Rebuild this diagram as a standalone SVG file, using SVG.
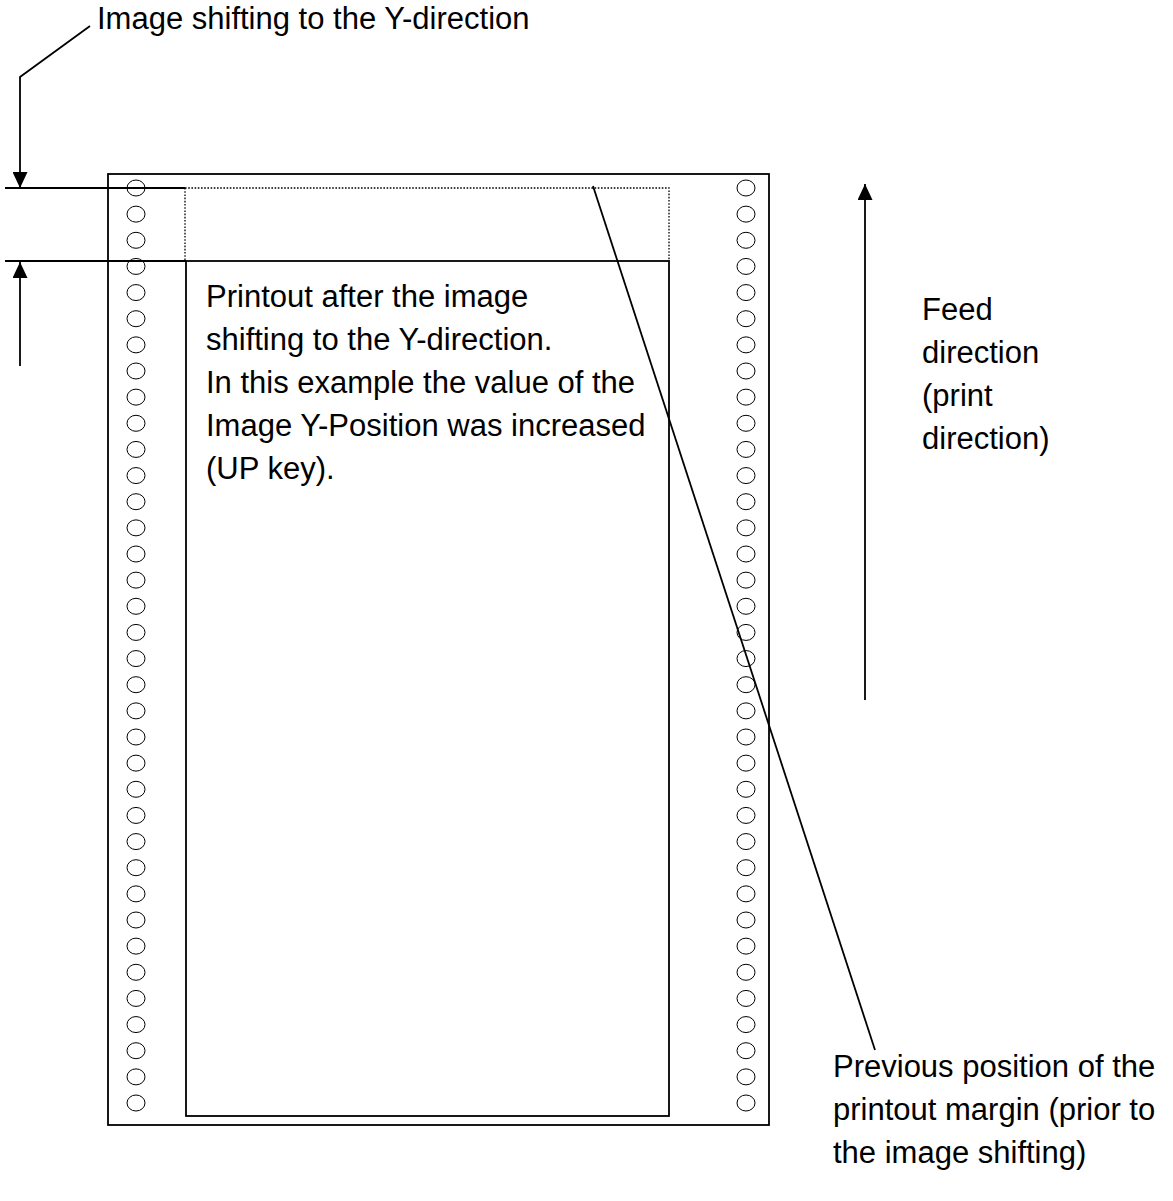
<svg xmlns="http://www.w3.org/2000/svg" width="1173" height="1201" viewBox="0 0 1173 1201">
<style>
text{font-family:"Liberation Sans",Arial,sans-serif;font-size:31px;fill:#000}
.ln{stroke:#000;stroke-width:1.8;fill:none}
.dot{stroke:#000;stroke-width:1.3;fill:none;stroke-dasharray:1.6 1.6}
.hole{stroke:#000;stroke-width:1;fill:#fff}
</style>
<defs>
<marker id="ah" markerUnits="userSpaceOnUse" markerWidth="16" markerHeight="15" refX="16" refY="7.5" orient="auto">
<path d="M0,0 L16,7.5 L0,15 Z" fill="#000"/>
</marker>
<g id="col">
<ellipse class="hole" cx="0" cy="0" rx="9" ry="8"/>
</g>
</defs>
<rect width="1173" height="1201" fill="#fff"/>
<g id="paper">
<rect class="ln" x="108" y="174" width="661" height="951"/>
</g>
<g id="previous-margin">
<polyline class="dot" points="185,188 669,188 669,261"/>
<line class="dot" x1="185" y1="188" x2="185" y2="261"/>
</g>
<g id="printout">
<rect class="ln" x="186" y="261" width="483" height="855"/>
<text x="206" y="307">Printout after the image</text>
<text x="206" y="350">shifting to the Y-direction.</text>
<text x="206" y="393">In this example the value of the</text>
<text x="206" y="436">Image Y-Position was increased</text>
<text x="206" y="479">(UP key).</text>
</g>
<g id="holes-left">
<use href="#col" x="136" y="188"/><use href="#col" x="136" y="214.14"/><use href="#col" x="136" y="240.29"/><use href="#col" x="136" y="266.43"/><use href="#col" x="136" y="292.57"/><use href="#col" x="136" y="318.71"/><use href="#col" x="136" y="344.86"/><use href="#col" x="136" y="371"/><use href="#col" x="136" y="397.14"/><use href="#col" x="136" y="423.29"/><use href="#col" x="136" y="449.43"/><use href="#col" x="136" y="475.57"/><use href="#col" x="136" y="501.71"/><use href="#col" x="136" y="527.86"/><use href="#col" x="136" y="554"/><use href="#col" x="136" y="580.14"/><use href="#col" x="136" y="606.29"/><use href="#col" x="136" y="632.43"/><use href="#col" x="136" y="658.57"/><use href="#col" x="136" y="684.71"/><use href="#col" x="136" y="710.86"/><use href="#col" x="136" y="737"/><use href="#col" x="136" y="763.14"/><use href="#col" x="136" y="789.29"/><use href="#col" x="136" y="815.43"/><use href="#col" x="136" y="841.57"/><use href="#col" x="136" y="867.71"/><use href="#col" x="136" y="893.86"/><use href="#col" x="136" y="920"/><use href="#col" x="136" y="946.14"/><use href="#col" x="136" y="972.29"/><use href="#col" x="136" y="998.43"/><use href="#col" x="136" y="1024.57"/><use href="#col" x="136" y="1050.71"/><use href="#col" x="136" y="1076.86"/><use href="#col" x="136" y="1103"/>
</g>
<g id="holes-right">
<use href="#col" x="746" y="188"/><use href="#col" x="746" y="214.14"/><use href="#col" x="746" y="240.29"/><use href="#col" x="746" y="266.43"/><use href="#col" x="746" y="292.57"/><use href="#col" x="746" y="318.71"/><use href="#col" x="746" y="344.86"/><use href="#col" x="746" y="371"/><use href="#col" x="746" y="397.14"/><use href="#col" x="746" y="423.29"/><use href="#col" x="746" y="449.43"/><use href="#col" x="746" y="475.57"/><use href="#col" x="746" y="501.71"/><use href="#col" x="746" y="527.86"/><use href="#col" x="746" y="554"/><use href="#col" x="746" y="580.14"/><use href="#col" x="746" y="606.29"/><use href="#col" x="746" y="632.43"/><use href="#col" x="746" y="658.57"/><use href="#col" x="746" y="684.71"/><use href="#col" x="746" y="710.86"/><use href="#col" x="746" y="737"/><use href="#col" x="746" y="763.14"/><use href="#col" x="746" y="789.29"/><use href="#col" x="746" y="815.43"/><use href="#col" x="746" y="841.57"/><use href="#col" x="746" y="867.71"/><use href="#col" x="746" y="893.86"/><use href="#col" x="746" y="920"/><use href="#col" x="746" y="946.14"/><use href="#col" x="746" y="972.29"/><use href="#col" x="746" y="998.43"/><use href="#col" x="746" y="1024.57"/><use href="#col" x="746" y="1050.71"/><use href="#col" x="746" y="1076.86"/><use href="#col" x="746" y="1103"/>
</g>
<g id="label-shift">
<text x="97" y="29">Image shifting to the Y-direction</text>
</g>
<g id="label-feed">
<text x="922" y="320">Feed</text>
<text x="922" y="363">direction</text>
<text x="922" y="406">(print</text>
<text x="922" y="449">direction)</text>
</g>
<g id="label-previous">
<text x="833" y="1077">Previous position of the</text>
<text x="833" y="1120">printout margin (prior to</text>
<text x="833" y="1163">the image shifting)</text>
</g>
<g id="connectors">
<line class="ln" x1="5" y1="188" x2="185" y2="188"/>
<line class="ln" x1="5" y1="261" x2="186" y2="261"/>
<polyline class="ln" points="90,26 20,77 20,188" marker-end="url(#ah)"/>
<line class="ln" x1="20" y1="366" x2="20" y2="262" marker-end="url(#ah)"/>
<line class="ln" x1="865" y1="700" x2="865" y2="184" marker-end="url(#ah)"/>
<line class="ln" x1="593" y1="186" x2="875" y2="1050"/>
</g>
</svg>
